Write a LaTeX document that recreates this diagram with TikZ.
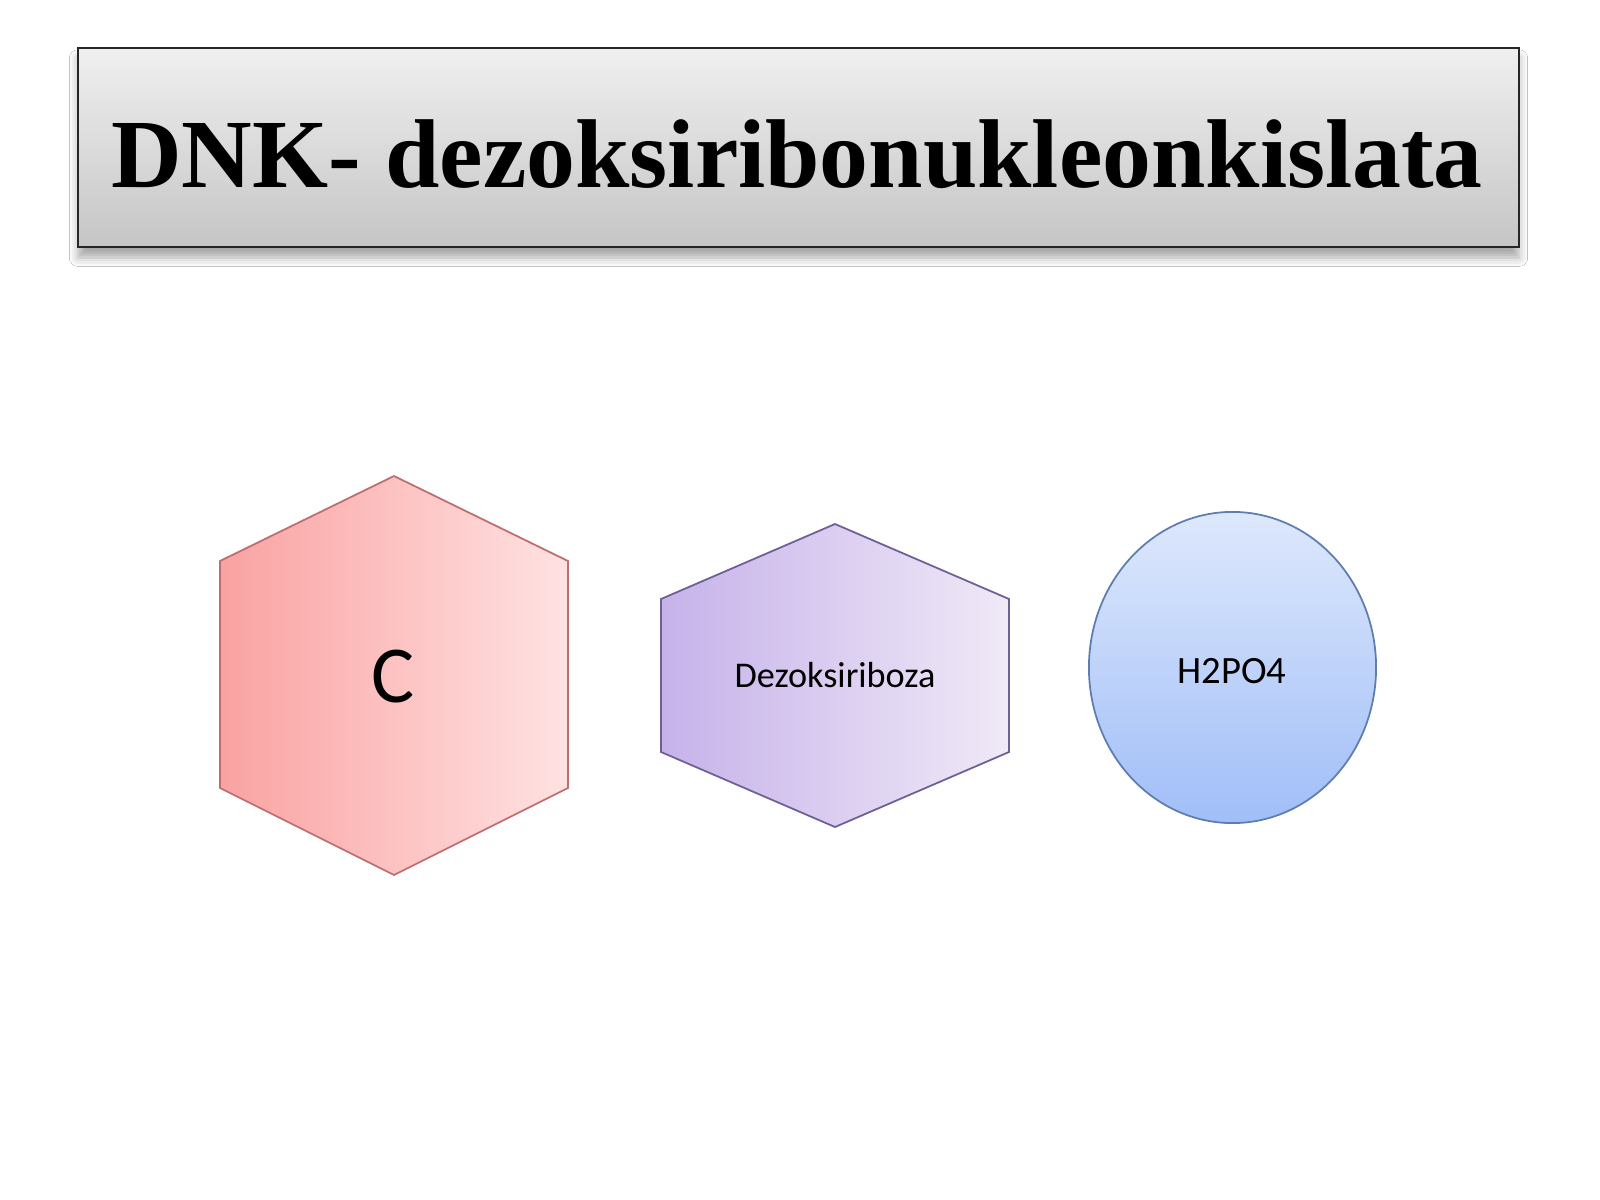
\documentclass[tikz,border=0pt]{standalone}
\usepackage{fontspec}
\setmainfont{Liberation Serif}
\newfontfamily\calibri{Carlito}
\usetikzlibrary{shapes.geometric, shadows.blur}
\definecolor{pinkL}{RGB}{250,162,162}
\definecolor{pinkR}{RGB}{255,226,226}
\definecolor{pinkD}{RGB}{190,110,110}
\definecolor{lilacL}{RGB}{198,178,234}
\definecolor{lilacR}{RGB}{240,233,247}
\definecolor{lilacD}{RGB}{110,95,150}
\definecolor{blueT}{RGB}{222,232,252}
\definecolor{blueB}{RGB}{160,190,248}
\definecolor{blueD}{RGB}{95,125,175}
\tikzset{
titlebox/.style={rectangle, draw=black!85, line width=0.6pt, top color=gray!12, bottom color=gray!45, blur shadow={shadow xshift=0pt, shadow yshift=-3pt, shadow blur radius=2.5pt, shadow opacity=35}},
hexa/.style={line width=0.5pt, line join=miter},
molecule/.style={font=\calibri, text=black, inner sep=0}}

\begin{document}
\begin{tikzpicture}[x=0.01cm, y=-0.01cm]
\useasboundingbox[fill=white] (0,0) rectangle (1600,1200);
% title
\node [titlebox, minimum width=14.4cm, minimum height=1.99cm] (title) at (798.5,147.5) {};
\node [anchor=base, font=\fontsize{27.8}{30}\selectfont\bfseries] (title-text) at (797,187) {DNK- dezoksiribonukleonkislata};
% base
\path [hexa, draw=pinkD, left color=pinkL, right color=pinkR]
  (394,476) -- (568,561) -- (568,788) -- (394,875) -- (220,788) -- (220,561) -- cycle;
\node [molecule, anchor=base, font=\calibri\fontsize{23}{26}\selectfont] (base-text) at (393,702) {C};
% sugar
\path [hexa, draw=lilacD, left color=lilacL, right color=lilacR]
  (835,524) -- (1009,599) -- (1009,752) -- (835,827) -- (661,752) -- (661,599) -- cycle;
\node [molecule, anchor=base, font=\calibri\fontsize{10.3}{12}\selectfont] (sugar-text) at (835,687) {Dezoksiriboza};
% phosphate
\node [ellipse, draw=blueD, line width=0.5pt, top color=blueT, bottom color=blueB, minimum width=2.87cm, minimum height=3.11cm, inner sep=0] (acid) at (1232.5,667.5) {};
\node [molecule, anchor=base, font=\calibri\fontsize{11}{13}\selectfont] (acid-text) at (1232,683) {H2PO4};
\end{tikzpicture}
\end{document}
